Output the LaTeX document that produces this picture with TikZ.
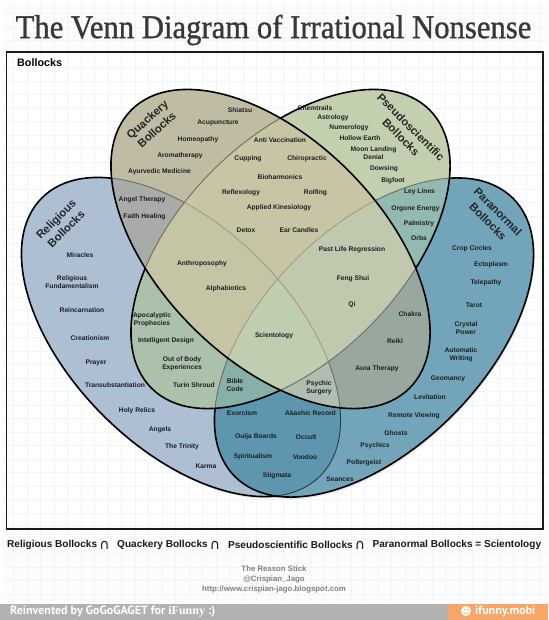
\documentclass[tikz,border=0pt]{standalone}
\usepackage{fontspec}
\setmainfont{Liberation Sans}
\newfontfamily\titlefont[FakeBold=1.0]{Liberation Serif}
\newfontfamily\funfont{Liberation Serif}
\newfontfamily\barfont{PT Sans}
\newfontfamily\symfont{DejaVu Sans}
% region colours, one letter per set: R religious, P paranormal, S pseudoscientific, Q quackery
\definecolor{cR}{RGB}{172,191,211}
\definecolor{cP}{RGB}{114,164,186}
\definecolor{cRP}{RGB}{95,150,175}
\definecolor{cS}{RGB}{195,208,176}
\definecolor{cRS}{RGB}{172,193,171}
\definecolor{cPS}{RGB}{147,186,176}
\definecolor{cRPS}{RGB}{134,176,168}
\definecolor{cQ}{RGB}{192,188,163}
\definecolor{cRQ}{RGB}{168,171,167}
\definecolor{cPQ}{RGB}{153,168,158}
\definecolor{cRPQ}{RGB}{175,190,177}
\definecolor{cQS}{RGB}{200,197,165}
\definecolor{cRQS}{RGB}{197,197,165}
\definecolor{cPQS}{RGB}{192,201,173}
\definecolor{cRPQS}{RGB}{191,205,177}
\definecolor{labcol}{RGB}{28,30,34}
\definecolor{gridcol}{RGB}{240,245,249}
\definecolor{barorange}{RGB}{248,165,105}
\tikzset{
  x=1pt,y=-1pt,
  outer/.style={draw=black,line width=1.6pt},
  innerteal/.style={draw=black!60!cRP,line width=.9pt},
  innergrey/.style={draw=black!42!cQ,line width=.9pt},
  innerpale/.style={draw=black!20!cQS,line width=.9pt},
  vshadow/.style={fill=black,opacity=.10},
  lab/.style={font=\bfseries\fontsize{6.7}{7.8}\selectfont,text=labcol,align=center,inner sep=0pt},
  setname/.style={font=\bfseries\fontsize{11.3}{14}\selectfont,text=black!85,align=center,inner sep=0pt},
  foot/.style={font=\bfseries\fontsize{10.05}{12}\selectfont,text=black!90,inner sep=0pt},
  capsym/.style={font=\symfont\fontsize{14}{14}\selectfont,text=black!90,inner sep=0pt},
  credit/.style={font=\bfseries\fontsize{7.8}{9}\selectfont,text=black!50,inner sep=0pt},
  bartext/.style={font=\barfont\bfseries\fontsize{12}{13}\selectfont,text=white,inner sep=0pt},
}
\newcommand{\vennpath}[3]{(#1,#2) ellipse [x radius=196.7pt,y radius=110.5pt,rotate=#3]}
\newcommand{\pR}{\vennpath{181}{337}{-45}}
\newcommand{\pP}{\vennpath{374}{337.5}{45}}
\newcommand{\pS}{\vennpath{290.5}{249}{45}}
\newcommand{\pQ}{\vennpath{270.5}{249}{-45}}
\begin{document}
\begin{tikzpicture}
\useasboundingbox (0,0) rectangle (548,620);
\fill[white] (0,0) rectangle (548,620);
\fill[gridcol!30] (2,3) rectangle (546,602);
\fill[white] (6.5,52) rectangle (543,529);
\begin{scope}
\clip (2,3) rectangle (546,602);
\draw[gridcol,line width=.4pt] (0,0) grid[step=13.5pt] (548,620);
\end{scope}
\draw[black!90,line width=1.4pt] (6.5,52) rectangle (543,529);
% soft shadows
\foreach \cx/\cy/\r in {181/337/-45,374/337.5/45,290.5/249/45,270.5/249/-45}{
  \fill[vshadow] \vennpath{\cx+1}{\cy+2}{\r};
}
% Religious
\fill[cR] \pR;
\draw[outer] \pR;
% Paranormal
\fill[cP] \pP;
\begin{scope}
\clip \pP;
\fill[cRP] \pR;
\draw[innerteal] \pR;
\end{scope}
\draw[outer] \pP;
% Pseudoscientific
\fill[cS] \pS;
\begin{scope}
\clip \pS;
\fill[cRS] \pR;
\fill[cPS] \pP;
\begin{scope}
\clip \pR;
\fill[cRPS] \pP;
\end{scope}
\draw[innergrey] \pR;
\draw[innergrey] \pP;
\end{scope}
\draw[outer] \pS;
% Quackery
\fill[cQ] \pQ;
\begin{scope}
\clip \pQ;
\fill[cRQ] \pR;
\fill[cPQ] \pP;
\begin{scope}
\clip \pR;
\fill[cRPQ] \pP;
\end{scope}
\draw[innergrey] \pR;
\draw[innergrey] \pP;
\fill[cQS] \pS;
\begin{scope}
\clip \pS;
\fill[cRQS] \pR;
\fill[cPQS] \pP;
\begin{scope}
\clip \pR;
\fill[cRPQS] \pP;
\end{scope}
\draw[innerpale] \pR;
\draw[innerpale] \pP;
\end{scope}
\draw[innergrey] \pS;
\end{scope}
\draw[outer] \pQ;
% title
\node[font=\titlefont\fontsize{30.7}{34}\selectfont,text=black!78,inner sep=0pt,yscale=1.08] (title) at (273.5,30) {The Venn Diagram of Irrational Nonsense};
\node[font=\bfseries\fontsize{10.8}{12}\selectfont,inner sep=0pt,anchor=west] (universe) at (17,63) {Bollocks};
% set names
\node[setname,rotate=42] (nqua) at (152,124.5) {Quackery\\Bollocks};
\node[setname,rotate=45] (nrel) at (61,224) {Religious\\Bollocks};
\node[setname,rotate=-45] (npse) at (406,132) {Pseudoscientific\\Bollocks};
\node[setname,rotate=-45] (npar) at (493,216.5) {Paranormal\\Bollocks};
% items
\foreach \px/\py/\txt [count=\i] in {
240/110/Shiatsu, 218/123/Acupuncture, 198/139.5/Homeopathy, 180/156/Aromatherapy, 159.5/172/Ayurvedic Medicine,
142/200/Angel Therapy, 144.5/217/Faith Healing, 280/140/Anti Vaccination, 248/158.5/Cupping, 307/159/Chiropractic,
280/177/Bioharmonics, 241/193/Reflexology, 315.5/193/Rolfing, 279/208/Applied Kinesiology, 246/230/Detox,
299/230/Ear Candles, 315/108.5/Chemtrails, 333/118/Astrology, 349/128/Numerology, 360/138/Hollow Earth,
373.5/153.5/Moon Landing\\Denial, 384/169/Dowsing, 393/181/Bigfoot, 419.5/192/Ley Lines, 415.5/209/Orgone Energy,
419/224/Palmistry, 419/238/Orbs, 352/250/Past Life Regression, 353/279/Feng Shui, 352/305/Qi,
410/314/Chakra, 395/341/Reiki, 377/369/Aura Therapy, 202/264/Anthroposophy, 226/289/Alphabiotics,
274/336/Scientology, 80/255/Miracles, 72/282/Religious\\Fundamentalism, 82/310.5/Reincarnation, 90/338/Creationism,
96/363/Prayer, 115/385/Transubstantiation, 152/320/Apocalyptic\\Prophecies, 166/340.5/Intelligent Design,
182/364/Out of Body\\Experiences, 194/385/Turin Shroud, 235/385/Bible\\Code, 319/388/Psychic\\Surgery,
242/413/Exorcism, 310.5/413/Akashic Record, 256/437/Ouija Boards, 306/437/Occult, 253/457/Spiritualism,
305/457/Voodoo, 277/476/Stigmata, 137/411/Holy Relics, 160/430/Angels, 182/447/The Trinity, 206/466/Karma,
340/479/Seances, 364/463/Poltergeist, 375/446/Psychics, 396/433/Ghosts, 414/416/Remote Viewing, 430/397/Levitation,
448/379/Geomancy, 461/355/Automatic\\Writing, 466/328/Crystal\\Power, 474/305/Tarot, 486/283/Telepathy,
491/265/Ectoplasm, 472/249/Crop Circles}{
  \node[lab] (item\i) at (\px,\py) {\txt};
}
% footer
\node[foot,anchor=west] (f1) at (7,545) {Religious Bollocks};
\node[capsym] (c1) at (104.5,545) {∩};
\node[foot,anchor=west] (f2) at (117,545) {Quackery Bollocks};
\node[capsym] (c2) at (215,545) {∩};
\node[foot,anchor=west] (f3) at (228,545) {Pseudoscientific Bollocks};
\node[capsym] (c3) at (360,545) {∩};
\node[foot,anchor=west] (f4) at (372.5,545) {Paranormal Bollocks = Scientology};
% credits
\node[credit] (cr1) at (274,569) {The Reason Stick};
\node[credit] (cr2) at (274,579) {@Crispian\_Jago};
\node[credit] (cr3) at (274,589) {http://www.crispian-jago.blogspot.com};
% bottom bar
\fill[black!30] (0,603.5) rectangle (548,620);
\fill[barorange] (447.5,603.5) rectangle (548,620);
\node[bartext,anchor=west] (bar1) at (10,611.5) {Reinvented by GoGoGAGET for {\funfont\bfseries iFunny} :)};
\node[font=\symfont\fontsize{11}{11}\selectfont,text=white,inner sep=0pt] (smile) at (466,611.5) {☻};
\node[bartext,anchor=west] (bar2) at (475,611.5) {ifunny.mobi};
\end{tikzpicture}
\end{document}
